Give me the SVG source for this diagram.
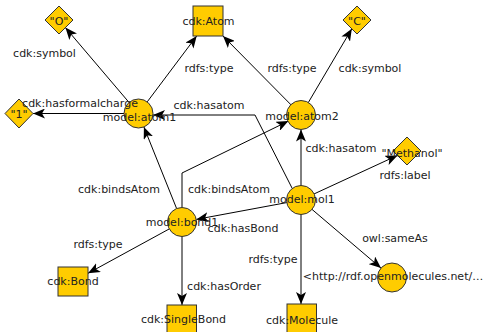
<svg xmlns="http://www.w3.org/2000/svg" width="488" height="332" viewBox="0 0 488 332">
<style>
  .n { fill: #FFCC00; stroke: #333; stroke-width: 1; }
  .e { fill: none; stroke: #000; stroke-width: 1; marker-end: url(#arr); }
  text { font-family: "DejaVu Sans", "Liberation Sans", sans-serif; font-size: 11px; fill: #222; text-anchor: middle; }
</style>
<defs>
  <marker id="arr" markerUnits="userSpaceOnUse" viewBox="0 0 12 10" markerWidth="12" markerHeight="10" refX="12" refY="5" orient="auto">
    <path d="M0,0 L12,5 L0,10 L3,5 z" fill="#000"/>
  </marker>
</defs>
<rect width="488" height="332" fill="#fff"/>
<g id="edges">
  <line class="e" x1="129.1" y1="102.5" x2="65.4" y2="27.6"/>
  <line class="e" x1="147.2" y1="101.9" x2="196.7" y2="36"/>
  <line class="e" x1="124" y1="113.5" x2="33" y2="113.5"/>
  <line class="e" x1="291.2" y1="105" x2="223" y2="36"/>
  <line class="e" x1="308.1" y1="102.9" x2="351.8" y2="28.8"/>
  <polyline class="e" points="292,188 255,115 153,115"/>
  <line class="e" x1="301" y1="186" x2="301" y2="129.5"/>
  <line class="e" x1="313.7" y1="194.1" x2="397.5" y2="155.4"/>
  <line class="e" x1="287.2" y1="202.5" x2="196.3" y2="219.4"/>
  <line class="e" x1="176.6" y1="208.5" x2="143.9" y2="127"/>
  <polyline class="e" points="182,207.5 182,173 288.4,121.1"/>
  <line class="e" x1="169.3" y1="228.9" x2="88" y2="273.3"/>
  <line class="e" x1="182" y1="236.5" x2="182" y2="305"/>
  <line class="e" x1="301" y1="214.5" x2="301" y2="304"/>
  <line class="e" x1="312" y1="209.4" x2="381" y2="268.1"/>
</g>
<g id="lit-O"><polygon class="n" points="59,6 73,20 59,34 45,20"/><text x="59" y="25">"O"</text></g>
<g id="cdk-Atom"><rect class="n" x="193" y="6" width="30" height="30"/><text x="208.5" y="25">cdk:Atom</text></g>
<g id="lit-C"><polygon class="n" points="357,6 371,20 357,34 343,20"/><text x="357" y="25">"C"</text></g>
<g id="lit-1"><polygon class="n" points="19,99 33,113.5 19,128 5,113.5"/><text x="19" y="118">"1"</text></g>
<g id="atom1"><circle class="n" cx="138.5" cy="113.5" r="14.5"/><text x="139.5" y="121">model:atom1</text></g>
<g id="atom2"><circle class="n" cx="301" cy="115" r="14.5"/><text x="302" y="120">model:atom2</text></g>
<g id="lit-Methanol"><polygon class="n" points="407,137 421,151 407,165 393,151"/><text x="412" y="157">"Methanol"</text></g>
<g id="mol1"><circle class="n" cx="301" cy="200" r="14.5"/><text x="302" y="203">model:mol1</text></g>
<g id="bond1"><circle class="n" cx="182" cy="222" r="14.5"/><text x="182" y="226">model:bond1</text></g>
<g id="cdk-Bond"><rect class="n" x="58" y="267" width="30" height="29"/><text x="73" y="285">cdk:Bond</text></g>
<g id="sameAs"><circle class="n" cx="392" cy="277.5" r="14.5"/><text x="393" y="280">&lt;http://rdf.openmolecules.net/…</text></g>
<g id="cdk-SingleBond"><rect class="n" x="167" y="305" width="29.5" height="30"/><text x="183.5" y="323">cdk:SingleBond</text></g>
<g id="cdk-Molecule"><rect class="n" x="287" y="304" width="29.5" height="30"/><text x="302" y="324">cdk:Molecule</text></g>
<g id="edge-labels">
  <text x="44.5" y="57">cdk:symbol</text>
  <text x="209" y="72">rdfs:type</text>
  <text x="292" y="72">rdfs:type</text>
  <text x="370" y="72">cdk:symbol</text>
  <text x="80" y="107">cdk:hasformalcharge</text>
  <text x="209" y="109">cdk:hasatom</text>
  <text x="341" y="152">cdk:hasatom</text>
  <text x="405" y="179">rdfs:label</text>
  <text x="119" y="193">cdk:bindsAtom</text>
  <text x="229" y="193">cdk:bindsAtom</text>
  <text x="243" y="232">cdk:hasBond</text>
  <text x="98" y="248">rdfs:type</text>
  <text x="224" y="290">cdk:hasOrder</text>
  <text x="273" y="263">rdfs:type</text>
  <text x="395" y="242">owl:sameAs</text>
</g>
</svg>
